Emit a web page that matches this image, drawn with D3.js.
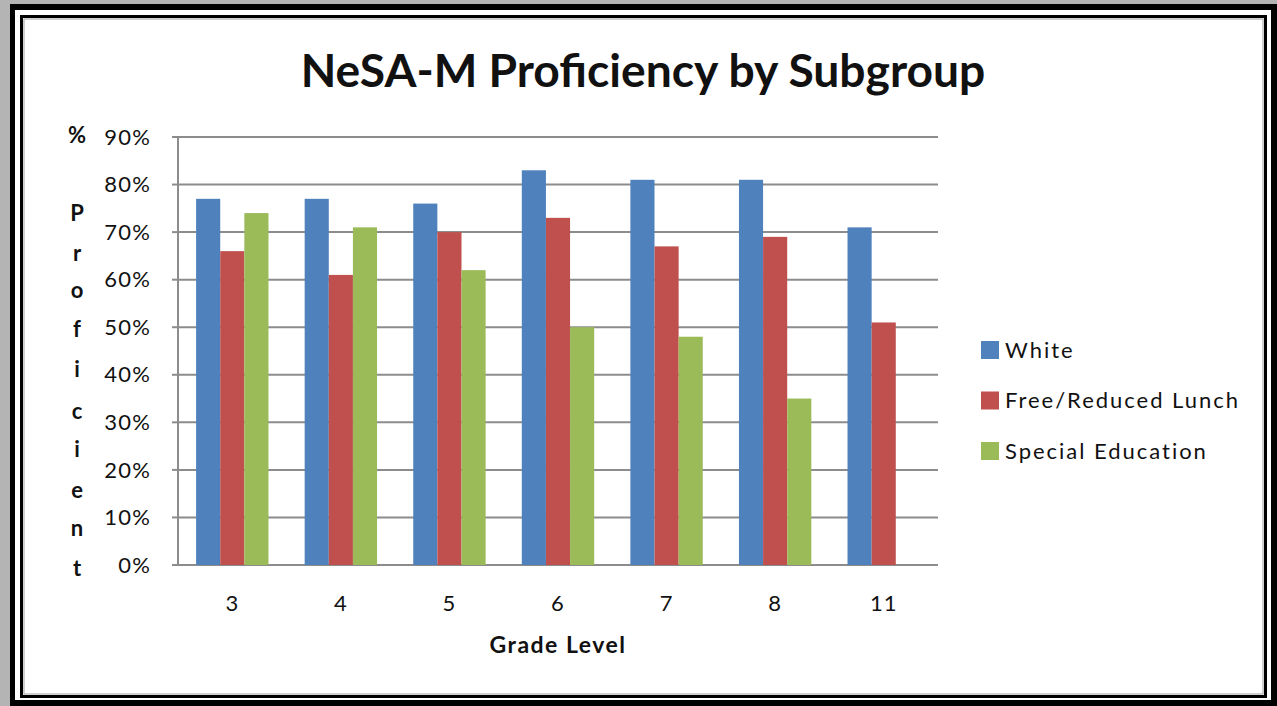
<!DOCTYPE html>
<html lang="en">
<head>
<meta charset="UTF-8">
<title>NeSA-M Proficiency by Subgroup</title>
<script src="https://cdn.jsdelivr.net/npm/d3@7"></script>
<style>
  html, body { margin: 0; padding: 0; background: #b4b4b4; }
  svg { display: block; font-family: Lato, "Open Sans", sans-serif; }
</style>
</head>
<body>
<div id="chart"></div>
<script>
// data
var grades = ["3", "4", "5", "6", "7", "8", "11"];
var seriesNames = ["White", "Free/Reduced Lunch", "Special Education"];
var white = [77, 77, 76, 83, 81, 81, 71];
var freeReduced = [66, 61, 70, 73, 67, 69, 51];
var specialEd = [74, 71, 62, 50, 48, 35, null];
var yTicks = [0, 10, 20, 30, 40, 50, 60, 70, 80, 90];
var colors = ["#4f81bd", "#c0504d", "#9bbb59"];

var W = 1277, H = 706;
var margin = { top: 137, left: 178, right: 339, bottom: 141 };
var width = W - margin.left - margin.right,
    height = H - margin.top - margin.bottom;

var svg = d3.select("#chart").append("svg")
    .attr("width", W)
    .attr("height", H);

// frame
svg.append("rect").attr("width", W).attr("height", H).attr("fill", "#b4b4b4");
svg.append("rect").attr("x", 10).attr("y", 4).attr("width", W - 10).attr("height", H - 4).attr("fill", "#000");
svg.append("rect").attr("x", 15).attr("y", 10).attr("width", W - 21).attr("height", H - 16).attr("fill", "#fff");
svg.append("rect").attr("x", 21.5).attr("y", 16.5).attr("width", W - 33).attr("height", H - 26)
    .attr("fill", "#fff").attr("stroke", "#000").attr("stroke-width", 3);
svg.append("rect").attr("x", 24).attr("y", 19).attr("width", W - 38).attr("height", H - 31)
    .attr("fill", "none").attr("stroke", "#a0a0a0").attr("stroke-width", 1);

var series = [white, freeReduced, specialEd];

var x0 = d3.scaleBand().domain(grades).range([0, width]).paddingInner(0).paddingOuter(0);
var barW = x0.bandwidth() / 4.5;
var x1 = d3.scaleBand().domain(seriesNames)
    .range([barW * 0.75, barW * 3.75]).padding(0);
var y = d3.scaleLinear().domain([0, 90]).range([height, 0]);

var g = svg.append("g").attr("transform", "translate(" + margin.left + "," + margin.top + ")");

// gridlines
g.selectAll(".grid").data(yTicks).enter().append("line")
    .attr("x1", 0).attr("x2", width)
    .attr("y1", function (d) { return y(d); })
    .attr("y2", function (d) { return y(d); })
    .attr("stroke", "#8c8c8c").attr("stroke-width", 2);

// y axis line + ticks
g.append("line").attr("x1", 0).attr("x2", 0).attr("y1", 0).attr("y2", height)
    .attr("stroke", "#8c8c8c").attr("stroke-width", 2);
g.selectAll(".ytick").data(yTicks).enter().append("line")
    .attr("x1", -6).attr("x2", 0)
    .attr("y1", function (d) { return y(d); })
    .attr("y2", function (d) { return y(d); })
    .attr("stroke", "#8c8c8c").attr("stroke-width", 2);

g.selectAll(".ylab").data(yTicks).enter().append("text")
    .attr("x", -27)
    .attr("y", function (d) { return y(d); })
    .attr("dy", "0.35em")
    .attr("text-anchor", "end")
    .attr("font-size", 22)
    .attr("letter-spacing", 1.2)
    .attr("fill", "#111")
    .text(function (d) { return d + "%"; });

// bars
var groups = g.selectAll(".grade").data(grades).enter().append("g")
    .attr("transform", function (d) { return "translate(" + x0(d) + ",0)"; });

groups.selectAll("rect")
    .data(function (d, i) {
        return seriesNames.map(function (s, j) { return { name: s, value: series[j][i], c: colors[j] }; });
    })
    .enter().filter(function (d) { return d.value != null; })
    .append("rect")
    .attr("x", function (d) { return x1(d.name); })
    .attr("width", x1.bandwidth())
    .attr("y", function (d) { return y(d.value); })
    .attr("height", function (d) { return height - y(d.value); })
    .attr("fill", function (d) { return d.c; });

// category labels
g.selectAll(".xlab").data(grades).enter().append("text")
    .attr("x", function (d) { return x0(d) + x0.bandwidth() / 2; })
    .attr("y", height + 46)
    .attr("text-anchor", "middle")
    .attr("font-size", 22)
    .attr("letter-spacing", 1)
    .attr("fill", "#111")
    .text(function (d) { return d; });

var xTitle = g.append("text")
    .attr("x", width / 2)
    .attr("y", height + 88)
    .attr("text-anchor", "middle")
    .attr("font-size", 23)
    .attr("font-weight", "bold")
    .attr("fill", "#111")
    .text("Grade Level");
var xw = xTitle.node().getComputedTextLength();
xTitle.attr("letter-spacing", (137 - xw) / 11);

// vertical y axis title, stacked letters
var yTitle = ["%", "P", "r", "o", "f", "i", "c", "i", "e", "n", "t"];
var yTitleY = [135, 213, 253, 290, 329, 369, 411, 449, 490, 528, 568];
svg.selectAll(".ytitle").data(yTitle).enter().append("text")
    .attr("x", 77)
    .attr("y", function (d, i) { return yTitleY[i]; })
    .attr("dy", "0.35em")
    .attr("text-anchor", "middle")
    .attr("font-size", 22)
    .attr("font-weight", "bold")
    .attr("fill", "#111")
    .text(function (d) { return d; });

// title
var title = svg.append("text")
    .attr("x", 643)
    .attr("y", 87)
    .attr("text-anchor", "middle")
    .attr("font-size", 42)
    .attr("font-weight", "bold")
    .attr("fill", "#111")
    .text("NeSA-M Proficiency by Subgroup");
var tw = title.node().getComputedTextLength();
title.attr("font-size", 42 * 685 / tw);

// legend
var legend = svg.selectAll(".legend").data(seriesNames).enter().append("g")
    .attr("transform", function (d, i) { return "translate(981," + (341 + i * 50.5) + ")"; });
legend.append("rect").attr("width", 18).attr("height", 18)
    .attr("fill", function (d, i) { return colors[i]; });
var legText = legend.append("text")
    .attr("x", 24).attr("y", 9).attr("dy", "0.35em")
    .attr("font-size", 22)
    .attr("fill", "#111")
    .text(function (d) { return d; });
var lw = legText.nodes()[1].getComputedTextLength();
legText.attr("letter-spacing", (235 - lw) / 18);
</script>
</body>
</html>
